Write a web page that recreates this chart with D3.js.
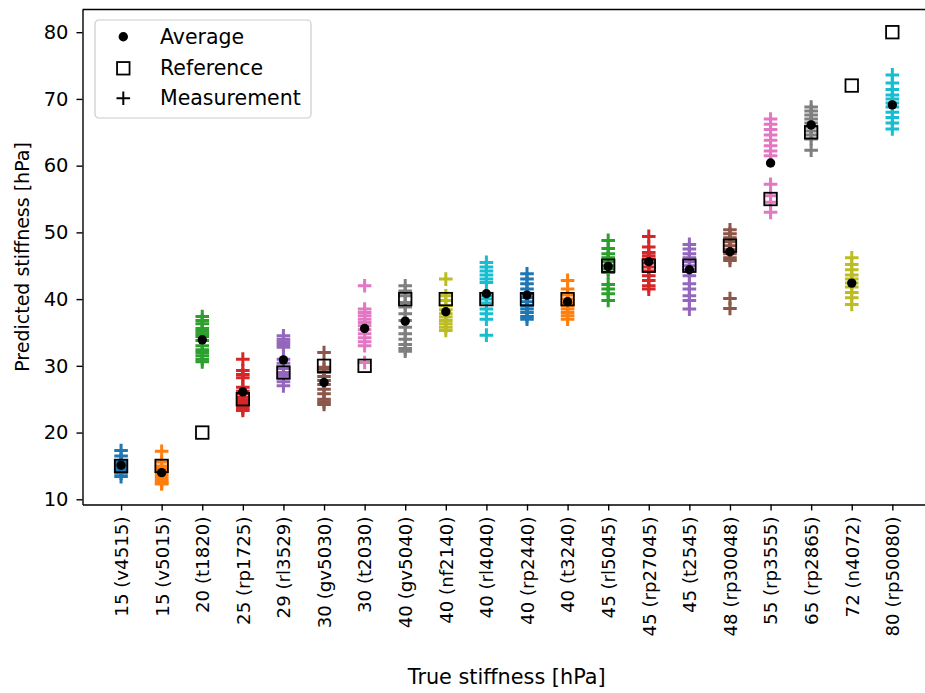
<!DOCTYPE html>
<html>
<head>
<meta charset="utf-8">
<script src="https://cdn.jsdelivr.net/npm/d3@7"></script>
<style>
  body { margin: 0; background: #fff; }
  svg { display: block; font-family: "DejaVu Sans", sans-serif; }
</style>
</head>
<body>
<div id="chart"></div>
<script>
// Sample names (x categories)
const categories = [
    "15 (v4515)", "15 (v5015)", "20 (t1820)", "25 (rp1725)", "29 (rl3529)",
    "30 (gv5030)", "30 (t2030)", "40 (gv5040)", "40 (nf2140)", "40 (rl4040)",
    "40 (rp2440)", "40 (t3240)", "45 (rl5045)", "45 (rp27045)", "45 (t2545)",
    "48 (rp30048)", "55 (rp3555)", "65 (rp2865)", "72 (n4072)", "80 (rp50080)"
];

// True stiffness (open squares)
const referenceValues = [15, 15, 20, 25, 29, 30, 30, 40, 40, 40, 40, 40, 45, 45, 45, 48, 55, 65, 72, 80];

// Mean prediction per sample (black dots)
const averageValues = [15.1, 14.0, 33.9, 26.1, 30.9, 27.5, 35.6, 36.7, 38.1, 40.8,
                       40.6, 39.6, 44.9, 45.6, 44.4, 47.1, 60.4, 66.1, 42.4, 69.1];

// Individual measurements (+ markers)
const measurements = [
    [17.3, 16.5, 15.8, 15.5, 15.2, 15.0, 14.8, 14.5, 14.2, 13.9, 13.4],
    [17.2, 15.6, 15.0, 14.6, 14.2, 13.8, 13.5, 13.2, 12.9, 12.6, 12.4, 12.3],
    [37.4, 36.8, 36.3, 35.6, 35.2, 34.8, 34.4, 33.8, 33.0, 32.4, 32.0, 31.5, 31.0, 30.6],
    [31.0, 29.3, 28.7, 28.2, 26.8, 26.2, 25.8, 25.3, 24.9, 24.5, 24.2, 24.0, 23.6, 23.3],
    [34.5, 34.0, 33.6, 33.2, 32.8, 31.0, 30.4, 29.6, 29.0, 28.6, 28.2, 27.6, 27.0],
    [32.0, 29.5, 29.8, 29.0, 28.4, 27.8, 27.2, 26.5, 25.8, 25.0, 24.6, 24.2],
    [42.0, 38.5, 38.0, 37.5, 37.0, 36.5, 36.0, 35.4, 34.8, 34.2, 33.6, 33.0, 30.5],
    [42.0, 41.2, 40.5, 39.5, 38.8, 37.8, 36.8, 35.8, 34.8, 34.0, 33.2, 32.6, 32.2],
    [43.0, 40.5, 39.8, 39.0, 38.4, 37.8, 37.3, 36.8, 36.3, 35.8, 35.3],
    [45.5, 44.8, 44.2, 43.6, 43.0, 42.5, 40.5, 40.0, 39.4, 38.5, 37.8, 37.0, 34.6],
    [43.8, 43.0, 42.3, 41.5, 40.8, 40.2, 39.6, 39.0, 38.5, 38.0, 37.4, 37.0],
    [42.8, 41.5, 40.6, 40.0, 39.4, 39.0, 38.5, 38.0, 37.5, 37.0],
    [48.8, 47.6, 46.8, 46.2, 45.6, 45.0, 44.5, 44.0, 42.2, 41.5, 40.8, 39.8],
    [49.4, 47.8, 47.0, 46.5, 46.0, 45.4, 44.8, 44.2, 43.5, 42.8, 42.0, 41.5],
    [48.2, 47.5, 46.8, 46.2, 45.6, 45.0, 44.4, 43.5, 42.3, 41.5, 40.5, 39.8, 38.5],
    [50.4, 49.8, 49.2, 48.6, 48.0, 47.4, 46.8, 46.2, 45.8, 40.1, 38.6],
    [67.0, 66.2, 65.4, 64.6, 63.8, 63.0, 62.2, 61.5, 57.2, 55.5, 54.5, 53.0],
    [68.8, 68.2, 67.6, 67.0, 66.4, 65.8, 65.2, 64.6, 64.0, 62.3],
    [46.2, 45.2, 44.4, 43.6, 43.0, 42.4, 41.8, 41.0, 40.2, 39.2],
    [73.6, 72.4, 71.4, 70.6, 70.0, 69.4, 68.8, 68.0, 67.2, 66.4, 65.5]
];

const yTicks = [10, 20, 30, 40, 50, 60, 70, 80];

// matplotlib tab10 cycle
const tab10 = ["#1f77b4", "#ff7f0e", "#2ca02c", "#d62728", "#9467bd",
               "#8c564b", "#e377c2", "#7f7f7f", "#bcbd22", "#17becf"];

const width = 925, height = 693;
const plot = { left: 82.5, right: 930.9, top: 9.5, bottom: 504.5 };
const xTickFont = 18.2;
const yTickFont = 19.5;
const labelFont = 20.5;

const svg = d3.select("#chart").append("svg")
    .attr("width", width)
    .attr("height", height);

// Scales (category index on x, like matplotlib's categorical axis)
const x = d3.scaleLinear().domain([-0.95, categories.length - 1 + 0.95]).range([plot.left, plot.right]);
const y = d3.scaleLinear().domain([9.22, 83.4]).range([plot.bottom, plot.top]);

const plusArm = 6.8;
function plusPath(cx, cy, s) {
    return `M${cx - s},${cy}H${cx + s}M${cx},${cy - s}V${cy + s}`;
}

// Measurements
categories.forEach((c, i) => {
    svg.append("g")
        .selectAll("path")
        .data(measurements[i])
        .enter().append("path")
        .attr("d", d => plusPath(x(i), y(d), plusArm))
        .style("stroke", tab10[i % 10])
        .style("stroke-width", 3)
        .style("fill", "none");
});

// Reference squares
const sq = 12.5;
svg.append("g")
    .selectAll("rect")
    .data(referenceValues)
    .enter().append("rect")
    .attr("x", (d, i) => x(i) - sq / 2)
    .attr("y", d => y(d) - sq / 2)
    .attr("width", sq)
    .attr("height", sq)
    .style("fill", "none")
    .style("stroke", "#000")
    .style("stroke-width", 1.8);

// Averages
svg.append("g")
    .selectAll("circle")
    .data(averageValues)
    .enter().append("circle")
    .attr("cx", (d, i) => x(i))
    .attr("cy", d => y(d))
    .attr("r", 4.7)
    .style("fill", "#000");

// Axes
const xAxis = d3.axisBottom(x)
    .tickValues(d3.range(categories.length))
    .tickFormat(i => categories[i])
    .tickSize(6)
    .tickSizeOuter(0);

const gx = svg.append("g")
    .attr("transform", `translate(0,${plot.bottom})`)
    .call(xAxis);
gx.selectAll("text")
    .attr("transform", "rotate(-90)")
    .attr("x", -12)
    .attr("y", 0)
    .attr("dy", "0.35em")
    .style("text-anchor", "end")
    .style("font-size", xTickFont + "px");

const yAxis = d3.axisLeft(y)
    .tickValues(yTicks)
    .tickSize(6)
    .tickPadding(8)
    .tickSizeOuter(0);
const gy = svg.append("g")
    .attr("transform", `translate(${plot.left},0)`)
    .call(yAxis);
gy.selectAll("text").style("font-size", yTickFont + "px");

[gx, gy].forEach(g => {
    g.selectAll("text")
        .style("font-family", "DejaVu Sans")
        .style("fill", "#000");
    g.selectAll("line").style("stroke", "#000").style("stroke-width", 1.4);
    g.select(".domain").style("stroke", "#000").style("stroke-width", 1.4);
});

// Top spine
svg.append("line")
    .attr("x1", plot.left).attr("x2", plot.right)
    .attr("y1", plot.top).attr("y2", plot.top)
    .style("stroke", "#000").style("stroke-width", 1.4);

// Axis titles
svg.append("text")
    .attr("x", (plot.left + plot.right) / 2)
    .attr("y", 684)
    .style("text-anchor", "middle")
    .style("font-size", "20.8px")
    .text("True stiffness [hPa]");

svg.append("text")
    .attr("transform", `translate(29,${(plot.top + plot.bottom) / 2}) rotate(-90)`)
    .style("text-anchor", "middle")
    .style("font-size", "19px")
    .text("Predicted stiffness [hPa]");

// Legend
const legend = svg.append("g").attr("transform", "translate(95,20)");
legend.append("rect")
    .attr("width", 216)
    .attr("height", 98)
    .attr("rx", 4)
    .style("fill", "#fff")
    .style("fill-opacity", 0.8)
    .style("stroke", "#cccccc")
    .style("stroke-width", 1.2);

const legendItems = ["Average", "Reference", "Measurement"];
const rowY = [16.7, 48.3, 78.3];
legendItems.forEach((name, k) => {
    const cx = 28.3, cy = rowY[k];
    if (k === 0) {
        legend.append("circle").attr("cx", cx).attr("cy", cy).attr("r", 4.7).style("fill", "#000");
    } else if (k === 1) {
        legend.append("rect")
            .attr("x", cx - sq / 2).attr("y", cy - sq / 2)
            .attr("width", sq).attr("height", sq)
            .style("fill", "none").style("stroke", "#000").style("stroke-width", 1.8);
    } else {
        legend.append("path").attr("d", plusPath(cx, cy, plusArm))
            .style("stroke", "#000").style("stroke-width", 2).style("fill", "none");
    }
    legend.append("text")
        .attr("x", 65)
        .attr("y", cy)
        .attr("dy", "0.35em")
        .style("font-size", labelFont + "px")
        .text(name);
});
</script>
</body>
</html>
